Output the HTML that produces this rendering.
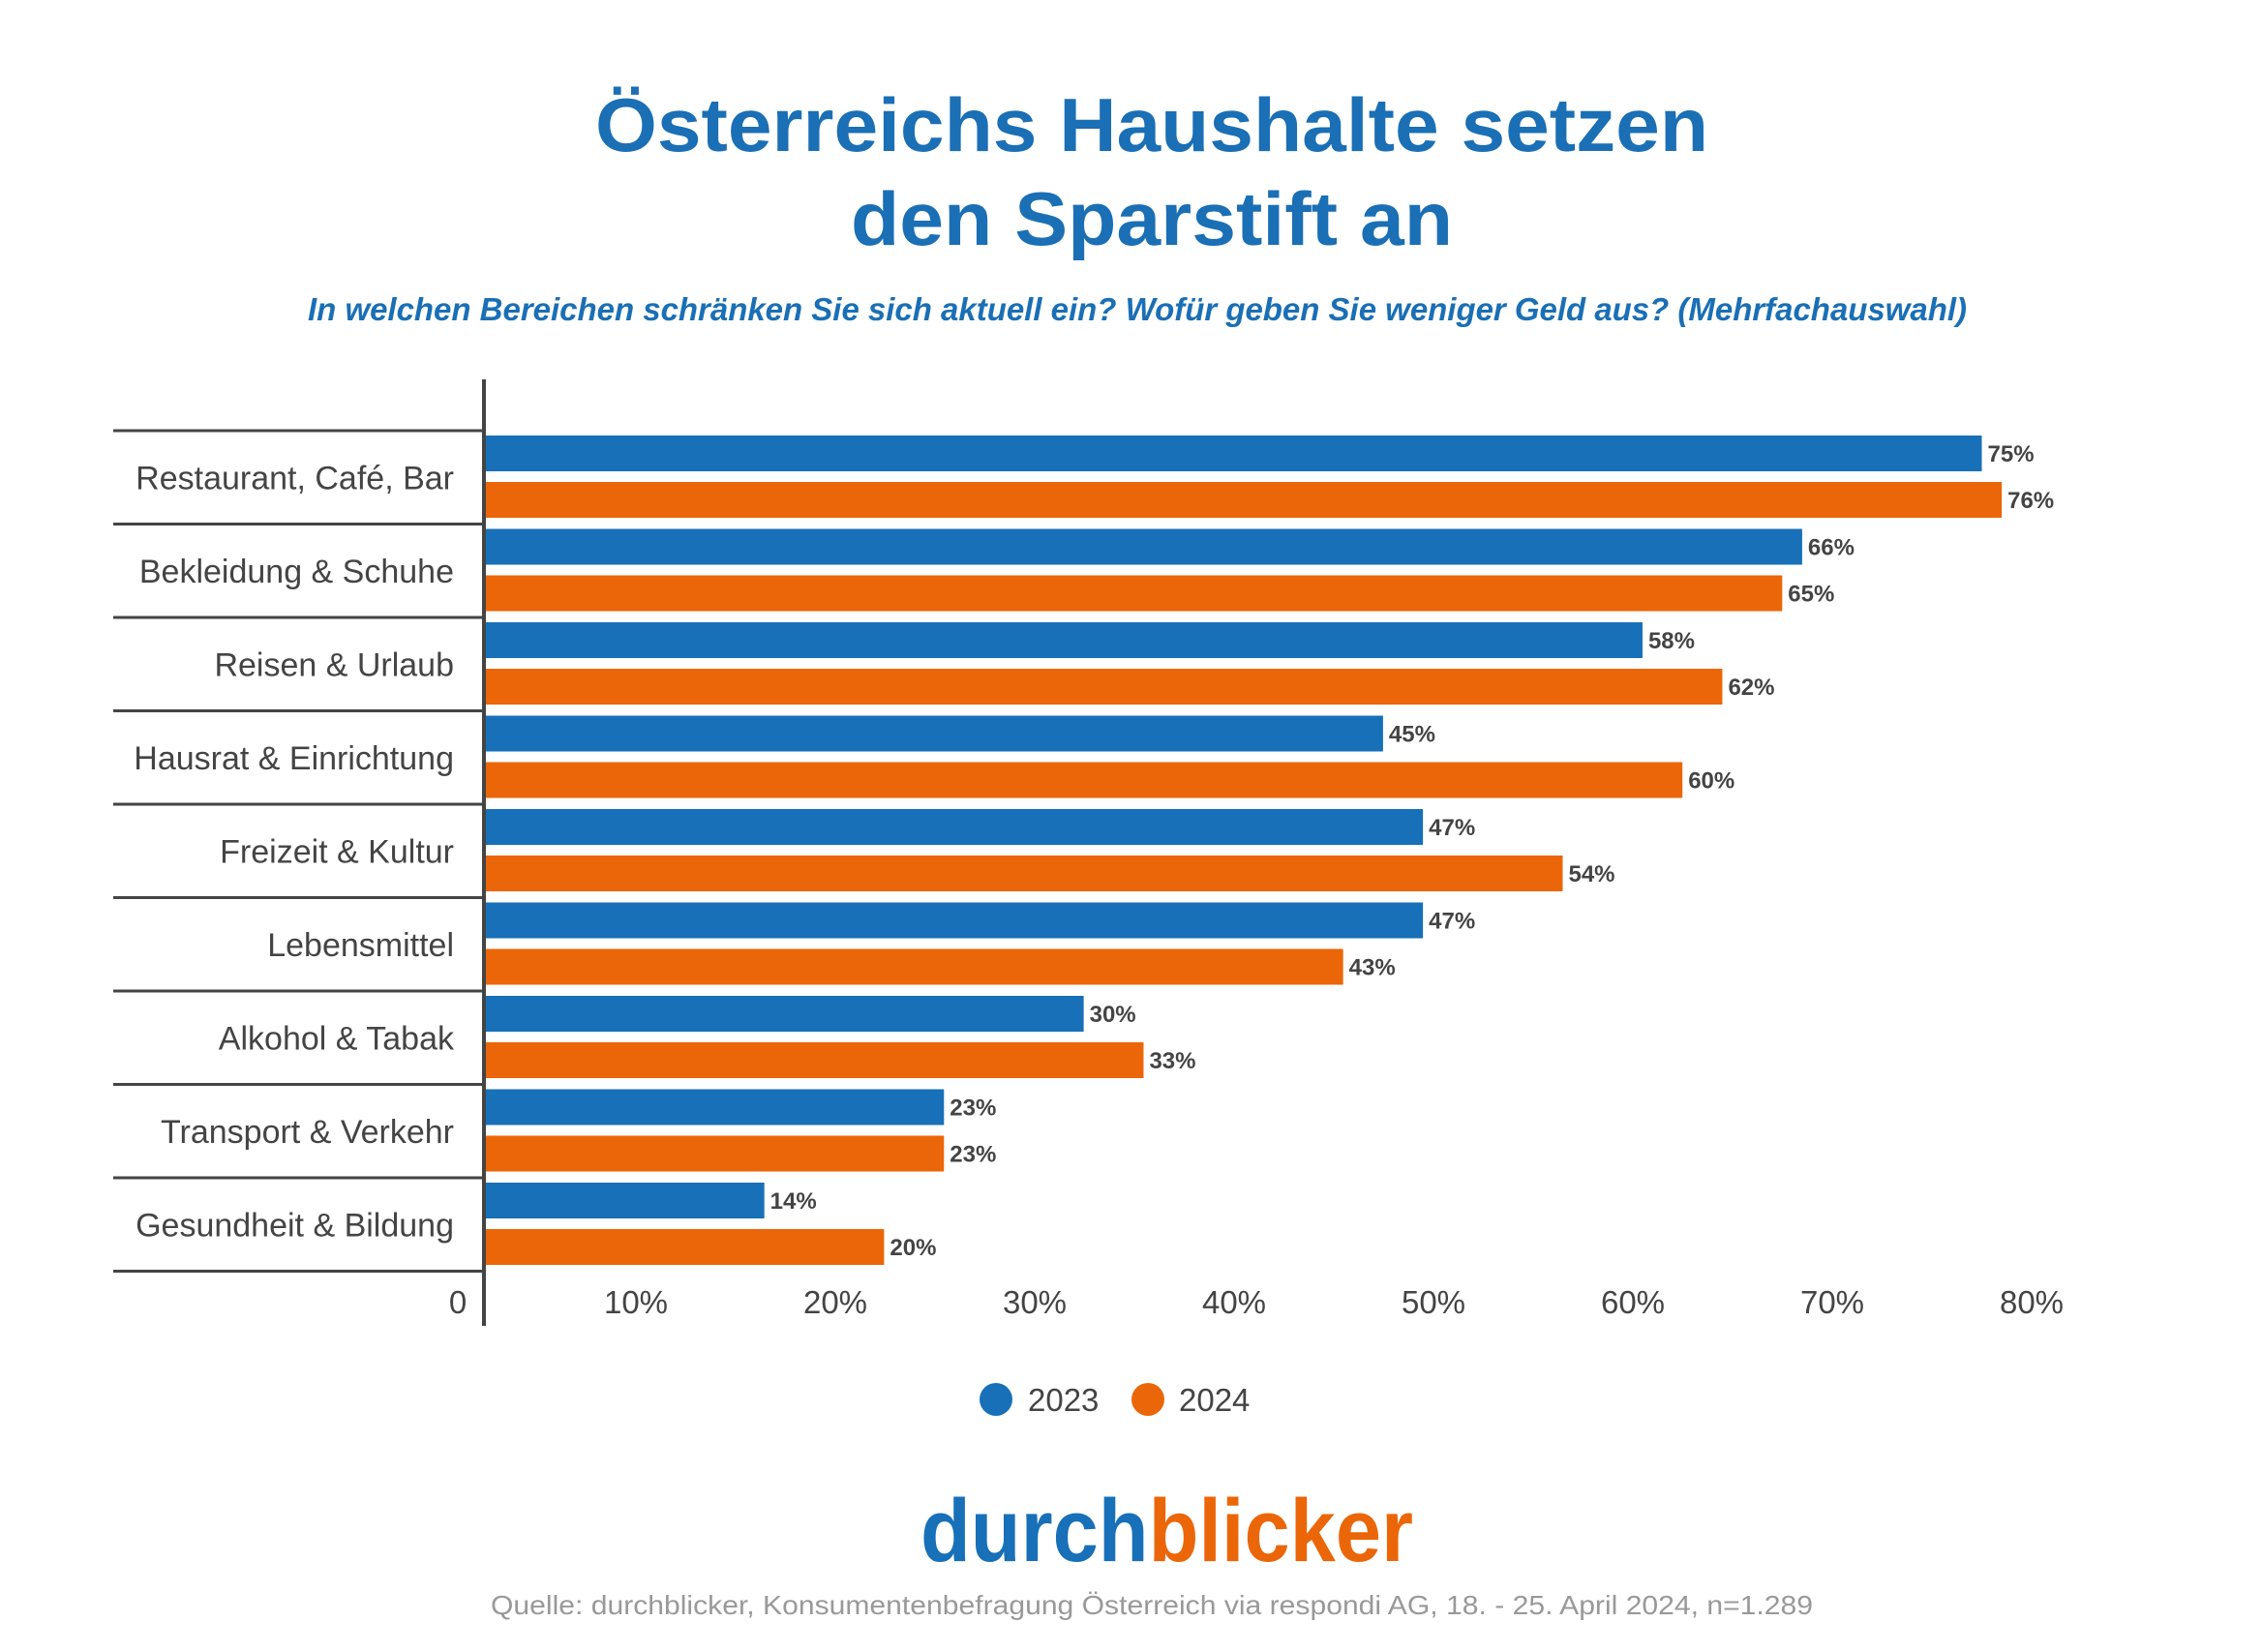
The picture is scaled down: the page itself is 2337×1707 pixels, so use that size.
<!DOCTYPE html>
<html><head><meta charset="utf-8"><style>
html,body{margin:0;padding:0;background:#fff}
svg{display:block}
text{font-family:"Liberation Sans",sans-serif}
</style></head><body>
<svg id="chart" width="2337" height="1707" viewBox="0 0 2337 1707" xmlns="http://www.w3.org/2000/svg">
<text x="1190" y="156" text-anchor="middle" font-size="78" font-weight="bold" fill="#1a6fb5" textLength="1150" lengthAdjust="spacingAndGlyphs">Österreichs Haushalte setzen</text>
<text x="1190" y="253" text-anchor="middle" font-size="78" font-weight="bold" fill="#1a6fb5" textLength="622" lengthAdjust="spacingAndGlyphs">den Sparstift an</text>
<text x="1175" y="331" text-anchor="middle" font-size="33" font-style="italic" font-weight="bold" fill="#1a6fb5" textLength="1714" lengthAdjust="spacingAndGlyphs">In welchen Bereichen schränken Sie sich aktuell ein? Wofür geben Sie weniger Geld aus? (Mehrfachauswahl)</text>
<g id="plot"></g>
<g>
<circle cx="1029" cy="1446" r="17" fill="#1770b8"/>
<text x="1062" y="1458" font-size="33" fill="#444">2023</text>
<circle cx="1186" cy="1446" r="17" fill="#eb6608"/>
<text x="1218" y="1458" font-size="33" fill="#444">2024</text>
</g>
<text x="951" y="1613" font-size="92" font-weight="bold" textLength="509" lengthAdjust="spacingAndGlyphs"><tspan fill="#1770b8">durch</tspan><tspan fill="#eb6608">blicker</tspan></text>
<text x="1190" y="1668" text-anchor="middle" font-size="28" fill="#999" textLength="1366" lengthAdjust="spacingAndGlyphs">Quelle: durchblicker, Konsumentenbefragung Österreich via respondi AG, 18. - 25. April 2024, n=1.289</text>
</svg>
<script>
const categories=["Restaurant, Café, Bar","Bekleidung & Schuhe","Reisen & Urlaub","Hausrat & Einrichtung","Freizeit & Kultur","Lebensmittel","Alkohol & Tabak","Transport & Verkehr","Gesundheit & Bildung"];
const values2023=[75,66,58,45,47,47,30,23,14];
const values2024=[76,65,62,60,54,43,33,23,20];
const tickValues=[0,10,20,30,40,50,60,70,80];
const tickLabels=["0","10%","20%","30%","40%","50%","60%","70%","80%"];
const NS="http://www.w3.org/2000/svg";
const plotG=document.getElementById('plot');
const x0=501, pxPer=20.62, plotTop=445, groupH=96.5;
const xs=v=>x0+v*pxPer;
const yg=i=>plotTop+i*groupH;
const tickX=v=>v===0?473:657+(v-10)*20.6;
function mk(tag,attrs,txt){const e=document.createElementNS(NS,tag);for(const k in attrs)e.setAttribute(k,attrs[k]);if(txt!==undefined)e.textContent=txt;plotG.appendChild(e);return e;}
for(let i=0;i<=categories.length;i++){
  const l=mk('line',{x1:117,x2:500,y1:yg(i),y2:yg(i),stroke:'#444','stroke-width':3});
  
  
}
categories.forEach((c,i)=>{
  const t=mk('text',{x:469,y:yg(i)+groupH/2+12,'text-anchor':'end','font-size':34,fill:'#444'},c);
  
  
  [[values2023,'#1770b8',5,'2023'],[values2024,'#eb6608',53,'2024']].forEach(([arr,col,off,yr])=>{
    const v=arr[i];
    const r=mk('rect',{x:x0,y:yg(i)+off,width:xs(v)-x0,height:37,fill:col});
    
    
    const vt=mk('text',{x:xs(v)+6,y:yg(i)+off+27,'font-size':24,'font-weight':'bold',fill:'#444'},v+'%');
    
    
  });
});
const ax=mk('line',{x1:500,x2:500,y1:392,y2:1370,stroke:'#444','stroke-width':4});


tickValues.forEach((v,i)=>{
  const t=mk('text',{x:tickX(v),y:1357,'text-anchor':'middle','font-size':33,fill:'#444'},tickLabels[i]);
  
  
});
</script>
</body></html>
